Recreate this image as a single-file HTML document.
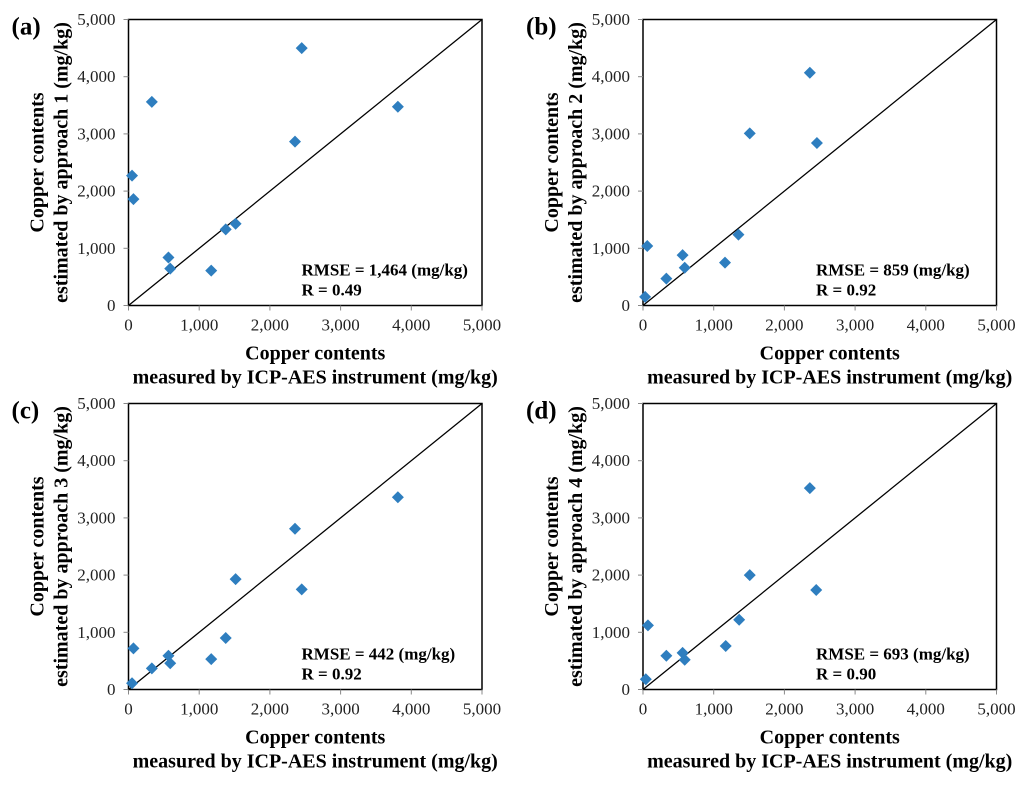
<!DOCTYPE html>
<html><head><meta charset="utf-8"><style>
html,body{margin:0;padding:0;background:#fff;}
svg, svg text{font-family:"Liberation Serif","Times New Roman",serif;}
</style></head><body>
<svg id="c" width="1024" height="782" viewBox="0 0 1024 782"></svg>
<script>
const measuredA = [50,70,330,565,590,1170,1375,1515,2355,2450,3810];
const estimatedA = [2270,1860,3560,840,645,610,1330,1430,2865,4500,3475];
const measuredB = [30,60,330,560,590,1160,1350,1510,2360,2460];
const estimatedB = [150,1040,470,880,660,750,1240,3010,4070,2840];
const measuredC = [50,70,330,565,590,1170,1375,1515,2355,2450,3810];
const estimatedC = [110,720,370,590,460,530,900,1930,2810,1750,3360];
const measuredD = [40,70,330,560,590,1170,1360,1510,2360,2450];
const estimatedD = [180,1120,590,640,520,760,1220,2000,3520,1740];
const tickValues = [0,1000,2000,3000,4000,5000];
const tickLabels = ["0","1,000","2,000","3,000","4,000","5,000"];
const panelLabels = ["(a)","(b)","(c)","(d)"];
const rmseLabels = ["RMSE = 1,464 (mg/kg)","RMSE = 859 (mg/kg)","RMSE = 442 (mg/kg)","RMSE = 693 (mg/kg)"];
const rLabels = ["R = 0.49","R = 0.92","R = 0.92","R = 0.90"];
const approach = ["1","2","3","4"];

const svg = document.getElementById('c');
const NS = 'http://www.w3.org/2000/svg';
const FF = 'Liberation Serif, serif';
function mk(tag, attrs, parent, text){
  const e = document.createElementNS(NS, tag);
  for (const k in attrs) e.setAttribute(k, attrs[k]);
  if (tag === 'text') e.setAttribute('font-family', FF);
  if (text !== undefined) e.textContent = text;
  (parent||svg).appendChild(e);
  return e;
}
const panels = [
  {l:128.5,t:19.5,mx:measuredA,ey:estimatedA},
  {l:643,t:19.5,mx:measuredB,ey:estimatedB},
  {l:128.5,t:403.5,mx:measuredC,ey:estimatedC},
  {l:643,t:403.5,mx:measuredD,ey:estimatedD}
];
const W=353.5, H=286;
panels.forEach((p,i)=>{
  const g = mk('g',{});
  
  
  const xs = v => p.l + v/5000*W;
  const ys = v => p.t + H - v/5000*H;
  const fr = mk('rect',{x:p.l,y:p.t,width:W,height:H,fill:'none',stroke:'#000','stroke-width':1.5},g);
  
  
  tickValues.forEach((v,k)=>{
    mk('line',{x1:xs(v),x2:xs(v),y1:p.t+H,y2:p.t+H+5,stroke:'#888','stroke-width':1},g);
    mk('line',{x1:p.l-5,x2:p.l,y1:ys(v),y2:ys(v),stroke:'#888','stroke-width':1},g);
    const xt = mk('text',{x:xs(v),y:p.t+H+25,'text-anchor':'middle','font-size':17,fill:'#222'},g,tickLabels[k]);
    
    
    const yt = mk('text',{x:p.l-13,y:ys(v)+5.5,'text-anchor':'end','font-size':17,fill:'#222'},g,tickLabels[k]);
    
    
  });
  const dl = mk('line',{x1:xs(0),y1:ys(0),x2:xs(5000),y2:ys(5000),stroke:'#000','stroke-width':1.3},g);
  
  
  p.mx.forEach((m,k)=>{
    const cx = xs(m), cy = ys(p.ey[k]), r=6;
    const pt = mk('polygon',{points:`${cx},${cy-r} ${cx+r},${cy} ${cx},${cy+r} ${cx-r},${cy}`,fill:'#2e7ebf'},g);
    
    
  });
  const a1 = mk('text',{x:p.l+173,y:p.t+H-30,'font-size':17,'font-weight':'bold'},g,rmseLabels[i]);
  
  
  const a2 = mk('text',{x:p.l+173,y:p.t+H-10,'font-size':17,'font-weight':'bold'},g,rLabels[i]);
  
  
  const pl = mk('text',{x:p.l-117,y:p.t+15,'font-size':25,'font-weight':'bold'},g,panelLabels[i]);
  
  
  const cxm = p.l + W/2 + 10;
  const x1 = mk('text',{x:cxm,y:p.t+H+54,'text-anchor':'middle','font-size':20,'font-weight':'bold'},g,'Copper contents');
  
  
  const x2 = mk('text',{x:cxm,y:p.t+H+78,'text-anchor':'middle','font-size':20,'font-weight':'bold'},g,'measured by ICP-AES instrument (mg/kg)');
  
  
  const cy = p.t + H/2;
  const y1 = mk('text',{x:0,y:0,'text-anchor':'middle','font-size':20,'font-weight':'bold',transform:`translate(${p.l-85},${cy}) rotate(-90)`},g,'Copper contents');
  
  
  const y2 = mk('text',{x:0,y:0,'text-anchor':'middle','font-size':20,'font-weight':'bold',transform:`translate(${p.l-61},${cy}) rotate(-90)`},g,'estimated by approach '+approach[i]+' (mg/kg)');
  
  
});
</script>
</body></html>
